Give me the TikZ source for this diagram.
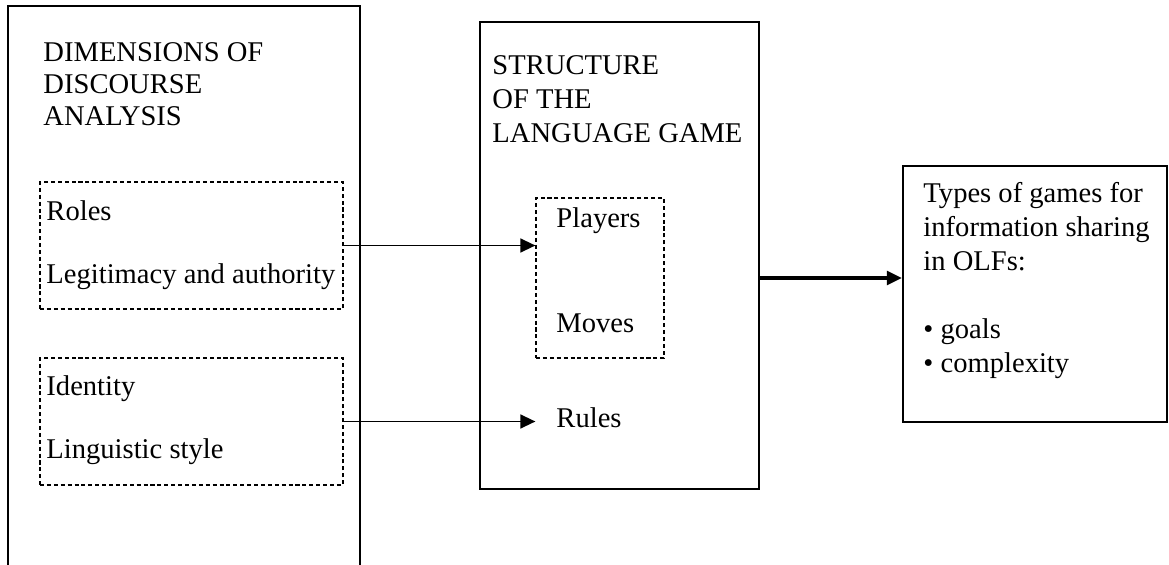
\documentclass[tikz,border=0pt]{standalone}
\usepackage{fontspec}
\setmainfont{Liberation Serif}
\usetikzlibrary{arrows.meta, fit}

\tikzset{
  box/.style={draw, line width=1pt, inner sep=0pt},
  dashbox/.style={draw, line width=0.5pt, dash pattern=on 1.7pt off 1.2pt, inner sep=0pt},
  label/.style={anchor=base west, inner sep=0pt, align=left},
  link/.style={line width=0.8pt, -{Triangle[length=6.3pt, width=5.8pt]}},
  biglink/.style={line width=1.4pt, -{Triangle[length=6.3pt, width=5.8pt]}}
}

\begin{document}
\begin{tikzpicture}[x=0.42pt, y=-0.42pt, font=\fontsize{12pt}{13.6pt}\selectfont]
  \useasboundingbox (0,0) rectangle (1169,565);

  % outer boxes
  \node[box, fit={(8,6) (360,600)}] (dims) {};
  \node[box, fit={(480,22) (759,489)}] (game) {};
  \node[box, fit={(903,166) (1167,422)}] (types) {};

  % dashed groups
  \node[dashbox, fit={(40,182) (343,309)}] (roles) {};
  \node[dashbox, fit={(40,358) (343,485)}] (idents) {};
  \node[dashbox, fit={(536,198) (664,358)}] (players) {};

  % texts (anchored at the baseline of the last line)
  \node[label] (dimstitle) at (43,126) {DIMENSIONS OF\\DISCOURSE\\ANALYSIS};
  \node[label, font=\fontsize{12pt}{14.4pt}\selectfont] (gametitle) at (492,143)
    {STRUCTURE\\OF THE\\LANGUAGE GAME};
  \node[label] (rolestext) at (46,220) {Roles};
  \node[label] (legit) at (46,283) {Legitimacy and authority};
  \node[label] (identtext) at (46,395) {Identity};
  \node[label] (lingstyle) at (46,458) {Linguistic style};
  \node[label] (playerstext) at (556,228) {Players};
  \node[label] (movestext) at (556,332) {Moves};
  \node[label] (rules) at (556,427) {Rules};
  \node[label, font=\fontsize{12pt}{14.2pt}\selectfont] (typestext) at (923,372)
    {Types of games for\\information sharing\\in OLFs:\\[14.2pt]\textbullet{} goals\\\textbullet{} complexity};

  % connectors
  \draw[link] (roles.east) -- (roles.east -| players.west);
  \draw[link] (idents.east) -- (idents.east -| players.west);
  \draw[biglink] ([yshift=-9.45pt]game.east) -- ([yshift=-9.45pt]game.east -| types.west);
\end{tikzpicture}
\end{document}
